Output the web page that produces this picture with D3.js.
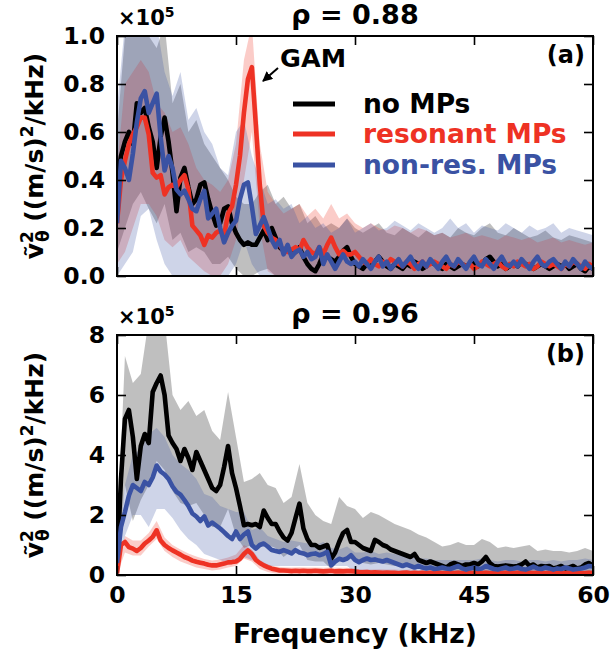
<!DOCTYPE html>
<html><head><meta charset="utf-8">
<script src="https://cdn.jsdelivr.net/npm/d3@7"></script>
<style>body{margin:0;background:#fff} text{font-family:"DejaVu Sans";font-weight:bold}</style>
</head><body><svg id="c" width="610" height="655"></svg>
<script>
// frequency grid of the line series (kHz) and of the spread bands (kHz)
const lineStep = 0.5;
const bandStep = 1;
const seriesNames = ["no MPs", "resonant MPs", "non-res. MPs"];
const xTicks = [0, 15, 30, 45, 60];
const yTicksA = [0, 0.2, 0.4, 0.6, 0.8, 1.0];
const yTicksB = [0, 2, 4, 6, 8];

// ---- panel (a) rho = 0.88, units 1e5 ----
const aBlack = [0.38,0.50,0.56,0.60,0.55,0.72,0.68,0.70,0.62,0.56,
 0.45,0.58,0.66,0.56,0.43,0.27,0.41,0.45,0.37,0.30,
 0.32,0.38,0.39,0.32,0.26,0.21,0.22,0.28,0.29,0.22,
 0.18,0.15,0.13,0.14,0.13,0.13,0.16,0.19,0.15,0.20,
 0.16,0.12,0.105,0.12,0.09,0.10,0.12,0.08,0.05,0.03,
 0.02,0.05,0.09,0.08,0.07,0.06,0.08,0.105,0.12,0.08,
 0.05,0.04,0.03,0.05,0.04,0.06,0.08,0.06,0.04,0.03,
 0.05,0.04,0.03,0.05,0.04,0.06,0.05,0.03,0.04,0.06,
 0.05,0.04,0.03,0.05,0.04,0.03,0.04,0.05,0.04,0.05,
 0.06,0.04,0.05,0.07,0.08,0.06,0.04,0.05,0.03,0.04,
 0.05,0.04,0.06,0.05,0.04,0.03,0.04,0.05,0.04,0.03,
 0.04,0.05,0.04,0.05,0.03,0.04,0.05,0.03,0.02,0.04,
 0.03];
const aRed = [0.22,0.40,0.48,0.55,0.59,0.62,0.66,0.66,0.59,0.43,
 0.41,0.42,0.34,0.37,0.38,0.37,0.40,0.42,0.36,0.21,
 0.19,0.17,0.13,0.17,0.16,0.18,0.19,0.17,0.26,0.29,
 0.38,0.50,0.68,0.82,0.87,0.63,0.38,0.21,0.18,0.16,
 0.15,0.13,0.105,0.10,0.11,0.12,0.105,0.15,0.12,0.10,
 0.09,0.12,0.09,0.13,0.16,0.12,0.09,0.105,0.09,0.09,
 0.10,0.08,0.06,0.05,0.07,0.05,0.04,0.06,0.05,0.07,
 0.06,0.05,0.04,0.06,0.05,0.03,0.05,0.06,0.04,0.05,
 0.06,0.05,0.04,0.03,0.05,0.04,0.06,0.05,0.04,0.05,
 0.03,0.04,0.06,0.05,0.04,0.05,0.06,0.04,0.03,0.05,
 0.04,0.06,0.05,0.04,0.05,0.03,0.04,0.06,0.05,0.04,
 0.05,0.04,0.03,0.05,0.04,0.06,0.05,0.04,0.03,0.05,
 0.04];
const aBlue = [0.22,0.48,0.45,0.40,0.51,0.64,0.74,0.77,0.68,0.72,
 0.76,0.58,0.44,0.50,0.45,0.36,0.34,0.355,0.32,0.28,
 0.27,0.32,0.355,0.24,0.26,0.28,0.20,0.14,0.18,0.21,
 0.23,0.32,0.38,0.39,0.29,0.175,0.21,0.245,0.20,0.15,
 0.12,0.15,0.09,0.13,0.08,0.10,0.11,0.08,0.10,0.07,
 0.08,0.12,0.05,0.09,0.06,0.03,0.06,0.09,0.06,0.05,
 0.06,0.04,0.07,0.05,0.03,0.06,0.08,0.04,0.06,0.03,
 0.05,0.07,0.04,0.06,0.08,0.05,0.03,0.06,0.04,0.07,
 0.05,0.03,0.06,0.08,0.05,0.04,0.07,0.05,0.03,0.06,
 0.08,0.05,0.04,0.07,0.05,0.03,0.06,0.08,0.05,0.04,
 0.06,0.04,0.07,0.05,0.03,0.06,0.08,0.05,0.04,0.06,
 0.07,0.05,0.03,0.06,0.04,0.07,0.05,0.03,0.06,0.04,
 0.03];
const aBlackHi = [0.6,1.0,1.05,1.05,1.0,0.95,1.05,0.72,0.8,0.6,
 0.65,0.55,0.5,0.45,0.4,0.33,0.3,0.3,0.35,0.38,
 0.3,0.33,0.28,0.3,0.22,0.25,0.2,0.22,0.2,0.24,
 0.2,0.18,0.2,0.22,0.18,0.17,0.2,0.18,0.16,0.19,
 0.17,0.18,0.16,0.2,0.18,0.17,0.2,0.22,0.18,0.17,
 0.2,0.18,0.16,0.17,0.19,0.16,0.15,0.17,0.16,0.15,
 0.14];
const aBlackLo = [0.1,0.2,0.3,0.35,0.28,0.22,0.3,0.15,0.18,0.1,
 0.12,0.1,0.05,0.05,0.08,0.03,0,0,0.02,0.03,
 0,0,0,0,0,0,0,0,0,0, 0,0,0,0,0,0,0,0,0,0,
 0,0,0,0,0,0,0,0,0,0, 0,0,0,0,0,0,0,0,0,0, 0];
const aRedHi = [0.45,0.8,0.85,0.9,0.85,0.72,0.68,0.6,0.62,0.55,
 0.45,0.4,0.38,0.35,0.4,0.55,0.9,1.05,0.55,0.35,
 0.3,0.26,0.28,0.3,0.25,0.28,0.24,0.3,0.24,0.26,
 0.22,0.2,0.22,0.2,0.19,0.21,0.2,0.18,0.2,0.19,
 0.17,0.18,0.16,0.17,0.18,0.16,0.17,0.16,0.15,0.17,
 0.16,0.15,0.16,0.14,0.15,0.16,0.14,0.15,0.14,0.13,
 0.14];
const aRedLo = [0.05,0.1,0.2,0.3,0.3,0.25,0.15,0.12,0.15,0.08,
 0.05,0.02,0,0,0.05,0.15,0.4,0.6,0.2,0.02,
 0,0,0,0,0,0,0,0,0,0, 0,0,0,0,0,0,0,0,0,0,
 0,0,0,0,0,0,0,0,0,0, 0,0,0,0,0,0,0,0,0,0, 0];
const aBlueHi = [0.7,1.05,1.05,1.1,1.05,1.05,0.85,0.75,0.85,0.65,
 0.7,0.6,0.55,0.45,0.42,0.6,0.65,0.5,0.4,0.3,
 0.32,0.28,0.3,0.22,0.25,0.2,0.22,0.18,0.2,0.24,
 0.18,0.2,0.22,0.19,0.2,0.23,0.21,0.19,0.22,0.2,
 0.18,0.2,0.24,0.2,0.22,0.18,0.21,0.2,0.19,0.22,
 0.2,0.18,0.21,0.19,0.2,0.22,0.18,0.2,0.19,0.18,
 0.17];
const aBlueLo = [0,0.05,0.1,0.25,0.28,0.15,0.05,0,0,0,
 0,0,0,0,0,0.05,0.15,0.05,0,0,
 0,0,0,0,0,0,0,0,0,0, 0,0,0,0,0,0,0,0,0,0,
 0,0,0,0,0,0,0,0,0,0, 0,0,0,0,0,0,0,0,0,0, 0];

// ---- panel (b) rho = 0.96, units 1e5 ----
const bBlack = [0.3,3.2,5.2,5.5,4.6,3.2,4.3,4.7,4.4,6.1,
 6.4,6.65,6.0,4.65,4.4,4.2,3.8,4.2,3.9,3.5,
 4.1,3.8,3.5,3.2,2.9,2.8,3.0,3.6,4.3,3.4,
 2.9,2.3,1.66,1.7,1.66,1.7,1.6,2.15,1.9,1.7,
 1.7,1.45,1.25,1.15,1.4,1.9,2.38,1.55,1.2,1.0,
 1.0,0.9,0.95,1.0,0.54,0.75,1.1,1.4,1.5,1.1,
 1.1,1.0,0.9,0.85,0.8,1.17,1.1,1.0,0.95,0.85,
 0.8,0.75,0.7,0.65,0.6,0.7,0.5,0.45,0.4,0.45,
 0.4,0.35,0.3,0.25,0.35,0.4,0.35,0.3,0.35,0.35,
 0.4,0.35,0.45,0.6,0.4,0.3,0.28,0.3,0.32,0.3,
 0.28,0.3,0.35,0.45,0.3,0.35,0.25,0.3,0.28,0.3,
 0.22,0.25,0.3,0.22,0.25,0.3,0.22,0.25,0.35,0.4,
 0.3];
const bRed = [0.05,1.0,1.1,0.93,0.88,0.8,0.9,1.05,1.15,1.27,
 1.49,1.15,1.0,0.9,0.82,0.75,0.68,0.6,0.55,0.48,
 0.44,0.41,0.38,0.34,0.32,0.32,0.35,0.38,0.42,0.43,
 0.45,0.54,0.7,0.82,0.7,0.5,0.4,0.32,0.26,0.21,
 0.18,0.15,0.15,0.14,0.13,0.14,0.13,0.14,0.13,0.13,
 0.14,0.13,0.12,0.13,0.14,0.12,0.13,0.12,0.13,0.13,
 0.12,0.1,0.09,0.1,0.08,0.09,0.08,0.07,0.08,0.07,
 0.07,0.06,0.07,0.08,0.06,0.07,0.06,0.07,0.06,0.07,
 0.06,0.07,0.06,0.06,0.07,0.06,0.07,0.06,0.06,0.07,
 0.06,0.07,0.06,0.07,0.06,0.06,0.07,0.06,0.07,0.06,
 0.06,0.07,0.06,0.06,0.07,0.06,0.07,0.06,0.06,0.07,
 0.06,0.07,0.06,0.06,0.07,0.06,0.07,0.06,0.06,0.07,
 0.06];
const bBlue = [0.4,1.6,2.1,2.65,3.0,2.9,2.8,3.1,3.0,3.25,
 3.65,3.45,3.35,3.2,2.95,2.77,2.68,2.5,2.3,2.05,
 1.95,1.8,1.95,1.65,1.75,1.65,1.55,1.43,1.3,1.2,
 1.45,1.2,1.35,1.45,1.0,0.88,1.0,1.05,0.95,0.83,
 0.8,0.77,0.83,0.78,0.72,0.83,0.75,0.72,0.66,0.7,
 0.72,0.66,0.7,0.77,0.32,0.45,0.54,0.5,0.55,0.66,
 0.5,0.43,0.5,0.55,0.5,0.52,0.48,0.45,0.5,0.45,
 0.4,0.35,0.3,0.35,0.3,0.25,0.3,0.25,0.22,0.25,
 0.2,0.22,0.25,0.22,0.2,0.25,0.3,0.22,0.18,0.22,
 0.25,0.2,0.22,0.3,0.25,0.2,0.18,0.22,0.25,0.2,
 0.22,0.25,0.2,0.18,0.22,0.28,0.22,0.2,0.25,0.22,
 0.18,0.22,0.2,0.25,0.22,0.18,0.2,0.22,0.25,0.3,
 0.28];
const bBlackHi = [1.0,7.3,6.4,6.7,8.5,8.5,8.5,6.0,5.5,5.8,
 5.3,5.5,4.8,4.5,6.1,4.6,3.1,3.2,3.4,3.0,
 2.9,2.4,2.6,3.7,2.4,2.0,1.8,1.7,2.6,2.3,
 2.2,1.9,2.1,2.0,1.85,1.7,1.6,1.5,1.35,1.25,
 1.1,0.95,1.0,1.1,1.0,1.0,1.2,1.1,0.9,0.95,
 0.9,0.95,1.0,0.8,0.85,0.8,0.8,0.75,0.8,0.9,
 0.8];
const bBlackLo = [0,3.0,1.8,2.5,3.0,3.8,3.5,2.8,2.4,2.3,
 2.4,2.0,1.6,1.6,2.2,1.3,0.9,1.0,1.0,1.0,
 0.9,0.6,0.8,1.0,0.5,0.45,0.45,0.2,0.5,0.6,
 0.5,0.4,0.35,0.4,0.35,0.3,0.3,0.25,0.2,0.2,
 0.15,0.1,0.1,0.1,0.1,0.1,0.1,0.1,0.05,0.05,
 0.05,0.05,0.05,0.05,0.05,0.05,0.05,0.05,0.05,0.05,
 0.05];
const bRedHi = [0.3,1.3,1.15,1.15,1.4,1.8,1.25,1.0,0.85,0.72,
 0.62,0.53,0.48,0.52,0.58,0.68,1.0,0.85,0.5,0.35,
 0.28,0.26,0.25,0.26,0.25,0.25,0.24,0.25,0.24,0.24,
 0.2,0.19,0.18,0.19,0.18,0.18,0.17,0.18,0.17,0.18,
 0.17,0.18,0.17,0.17,0.18,0.17,0.18,0.17,0.17,0.18,
 0.17,0.17,0.18,0.17,0.17,0.18,0.17,0.17,0.18,0.17,
 0.17];
const bRedLo = [0,0.75,0.65,0.65,0.95,1.2,0.8,0.6,0.45,0.35,
 0.25,0.2,0.15,0.18,0.25,0.3,0.55,0.45,0.2,0.1,
 0.05,0.05,0.05,0.05,0.05,0.05,0.05,0.05,0.05,0.05,
 0,0,0,0,0,0,0,0,0,0, 0,0,0,0,0,0,0,0,0,0,
 0,0,0,0,0,0,0,0,0,0, 0];
const bBlueHi = [0.5,3.0,4.0,4.2,4.7,4.9,4.6,4.0,3.7,3.5,
 3.2,2.7,2.6,2.3,2.2,2.1,2.1,1.5,1.6,1.3,
 1.2,1.1,1.15,1.1,1.05,1.0,1.1,0.9,0.85,0.95,
 0.75,0.75,0.8,0.7,0.75,0.7,0.65,0.6,0.55,0.55,
 0.5,0.5,0.5,0.5,0.5,0.5,0.55,0.5,0.45,0.5,
 0.5,0.45,0.5,0.5,0.45,0.5,0.45,0.5,0.5,0.55,
 0.5];
const bBlueLo = [0,1.3,2.0,2.0,1.6,2.2,2.2,1.9,1.5,1.2,
 1.0,0.7,0.6,0.5,0.4,0.5,0.6,0.5,0.4,0.3,
 0.3,0.3,0.3,0.3,0.3,0.3,0.3,0.3,0.3,0.3,
 0.1,0.1,0.1,0.1,0.1,0.1,0.1,0.1,0.1,0.1,
 0.05,0.05,0.05,0.05,0.05,0.05,0.05,0.05,0.05,0.05,
 0.05,0.05,0.05,0.05,0.05,0.05,0.05,0.05,0.05,0.05,
 0.05];

const colors = ["#000000", "#ee3224", "#3a52a3"];

const panels = [
  {top:36, bottom:276, max:1.0, yTicks:yTicksA, fmt:d3.format(".1f"), title:"ρ = 0.88", tag:"(a)",
   lines:[aBlack,aRed,aBlue], bands:[[aBlackLo,aBlackHi],[aRedLo,aRedHi],[aBlueLo,aBlueHi]], xLabels:false, legend:true},
  {top:335, bottom:575, max:8, yTicks:yTicksB, fmt:d3.format("d"), title:"ρ = 0.96", tag:"(b)",
   lines:[bBlack,bRed,bBlue], bands:[[bBlackLo,bBlackHi],[bRedLo,bRedHi],[bBlueLo,bBlueHi]], xLabels:true, legend:false}
];

const svg = d3.select("#c");
const x = d3.scaleLinear().domain([0,60]).range([117,593]);
const TICK = 9;

panels.forEach((p, pi) => {
  const y = d3.scaleLinear().domain([0,p.max]).range([p.bottom,p.top]);
  const clipId = "clip"+pi;
  svg.append("clipPath").attr("id",clipId).append("rect")
    .attr("x",x(0)).attr("y",p.top).attr("width",x(60)-x(0)).attr("height",p.bottom-p.top);
  const g = svg.append("g").attr("clip-path","url(#"+clipId+")");

  p.bands.forEach((b, si) => {
    const area = d3.area().x((d,i)=>x(i*bandStep)).y0((d,i)=>y(b[0][i])).y1((d,i)=>y(b[1][i]));
    g.append("path").datum(b[1]).attr("d",area).attr("fill",colors[si]).attr("fill-opacity",0.25).attr("stroke","none");
  });
  p.lines.forEach((vals, si) => {
    const line = d3.line().x((d,i)=>x(i*lineStep)).y(d=>y(d));
    g.append("path").datum(vals).attr("d",line).attr("fill","none")
      .attr("stroke",colors[si]).attr("stroke-width",4.6).attr("stroke-linejoin","round");
  });

  // axes
  const ax = svg.append("g").attr("class","axes");
  ax.append("g").attr("transform",`translate(${x(0)},0)`)
    .call(d3.axisLeft(y).tickValues(p.yTicks).tickFormat(p.fmt).tickSizeInner(-TICK).tickSizeOuter(0).tickPadding(12));
  ax.append("g").attr("transform",`translate(${x(60)},0)`)
    .call(d3.axisRight(y).tickValues(p.yTicks).tickFormat("").tickSizeInner(-TICK).tickSizeOuter(0));
  ax.append("g").attr("transform",`translate(0,${p.top})`)
    .call(d3.axisTop(x).tickValues(xTicks).tickFormat("").tickSizeInner(-TICK).tickSizeOuter(0));
  const bot = ax.append("g").attr("transform",`translate(0,${p.bottom})`)
    .call(d3.axisBottom(x).tickValues(xTicks).tickFormat(p.xLabels ? d3.format("d") : "").tickSizeInner(-TICK).tickSizeOuter(0).tickPadding(10));
  ax.selectAll(".domain").remove();
  ax.selectAll(".tick line").attr("stroke","#000").attr("stroke-width",1.6);
  ax.selectAll(".tick text").attr("font-family","DejaVu Sans").attr("font-weight","bold").attr("font-size",23.5).attr("fill","#000");
  bot.selectAll(".tick text").attr("dy","0.78em");

  svg.append("rect").attr("x",x(0)).attr("y",p.top).attr("width",x(60)-x(0)).attr("height",p.bottom-p.top)
    .attr("fill","none").attr("stroke","#000").attr("stroke-width",2);

  // title, offset text, tag
  svg.append("text").attr("x",355).attr("y",p.top-12).attr("text-anchor","middle").attr("font-size",27).text(p.title);
  const off = svg.append("text").attr("x",118).attr("y",p.top-11).attr("font-size",21);
  off.append("tspan").text("×10");
  off.append("tspan").attr("dy",-8).attr("font-size",14).text("5");
  svg.append("text").attr("x",585).attr("y",p.top+27).attr("text-anchor","end").attr("font-size",24).text(p.tag);

  // y label
  const cy = (p.top+p.bottom)/2;
  const yl = svg.append("text").attr("transform",`translate(43,${cy}) rotate(-90)`).attr("text-anchor","middle").attr("font-size",25);
  yl.append("tspan").text("v\u0303");
  yl.append("tspan").attr("dy",-10).attr("font-size",17).text("2");
  yl.append("tspan").attr("dx",-11).attr("dy",16).attr("font-size",17).text("θ");
  yl.append("tspan").attr("dy",-6).text(" ((m/s)");
  yl.append("tspan").attr("dy",-10).attr("font-size",17).text("2");
  yl.append("tspan").attr("dy",10).text("/kHz)");

  if (p.legend) {
    const ly = [104, 134, 165];
    seriesNames.forEach((name, si) => {
      svg.append("line").attr("x1",293).attr("x2",335).attr("y1",ly[si]).attr("y2",ly[si])
        .attr("stroke",colors[si]).attr("stroke-width",5);
      svg.append("text").attr("x",363).attr("y",ly[si]+9).attr("font-size",26.5).attr("fill",colors[si]).text(name);
    });
    // GAM annotation
    svg.append("defs").append("marker").attr("id","ah").attr("viewBox","0 0 10 10").attr("refX",9).attr("refY",5)
      .attr("markerWidth",5).attr("markerHeight",5).attr("orient","auto")
      .append("path").attr("d","M0,0L10,5L0,10z").attr("fill","#000");
    svg.append("text").attr("x",280).attr("y",67).attr("font-size",25.5).text("GAM");
    svg.append("line").attr("x1",278).attr("y1",68).attr("x2",263).attr("y2",81)
      .attr("stroke","#000").attr("stroke-width",2).attr("marker-end","url(#ah)");
  }
});

svg.append("text").attr("x",355).attr("y",643).attr("text-anchor","middle").attr("font-size",26.5).text("Frequency (kHz)");
</script></body></html>
